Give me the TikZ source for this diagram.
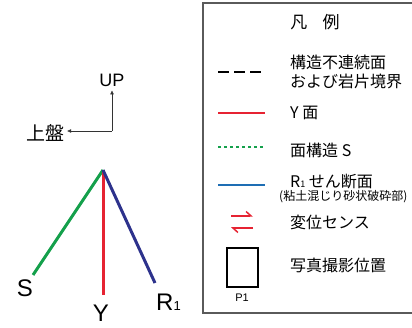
\documentclass[tikz,border=0pt]{standalone}
\usepackage{fontspec}
\setmainfont{Liberation Sans}
\newfontfamily\jp{Noto Sans CJK JP}
\usepackage{tikz}
\usetikzlibrary{arrows.meta,positioning}
\definecolor{sgreen}{RGB}{20,160,75}
\definecolor{yred}{RGB}{230,35,50}
\definecolor{rnavy}{RGB}{45,50,140}
\definecolor{rblue}{RGB}{30,110,180}
\definecolor{framegray}{RGB}{90,90,90}

\begin{document}
\begin{tikzpicture}[x=1pt, y=-1pt,
    plane/.style={line width=3pt},
    legline/.style={line width=2pt},
    legtext/.style={anchor=west, inner sep=0pt, align=left, font=\jp\fontsize{16}{19}\selectfont},
    planelabel/.style={inner sep=0pt, font=\fontsize{24}{24}\selectfont},
    dirarrow/.style={-{Triangle[length=4pt,width=3.5pt]}, line width=0.6pt, draw=black!80},
    sense/.style={-{Straight Barb[left, length=5pt, width=9pt]}, line width=1.5pt, draw=yred}
]
    \clip (0,0) rectangle (412,328);

    % orientation
    \coordinate (o) at (112,131);
    \node[font=\fontsize{18}{18}\selectfont, inner sep=0pt] (up) at (112,80) {UP};
    \node[font=\jp\fontsize{19}{19}\selectfont, inner sep=0pt] (hw) at (46,133) {上盤};
    \draw[dirarrow] (o) -- ([yshift=-4pt]up.south);
    \draw[dirarrow] (o) -- ([xshift=2pt]hw.east |- o);

    % planes
    \coordinate (apex) at (103,170);
    \coordinate (send) at (33,275);
    \coordinate (yend) at (103,295);
    \coordinate (rend) at (155,283);
    \draw[plane, sgreen] (apex) -- (send);
    \draw[plane, yred] (apex) -- (yend);
    \draw[plane, rnavy] (apex) -- (rend);
    \node[planelabel] (s) at (25,288) {S};
    \node[planelabel] (y) at (101,313) {Y};
    \node[planelabel, anchor=base west] (r) at (156,311) {R{\fontsize{13}{13}\selectfont 1}};

    % legend
    \draw[line width=1.5pt, framegray] (203,3) rectangle (430,313);
    \node[font=\jp\fontsize{17}{17}\selectfont, inner sep=0pt] (title) at (315,22) {凡\hspace{0.9em}例};

    \draw[legline, dash pattern=on 11pt off 5pt] (218,72) -- (263,72);
    \node[legtext] (t1) at (290,72) {構造不連続面\\および岩片境界};

    \draw[legline, yred] (218,113) -- (265,113);
    \node[legtext] (t2) at (290,113) {Y 面};

    \draw[legline, sgreen, dash pattern=on 3pt off 3pt] (218,147) -- (265,147);
    \node[legtext] (t3) at (290,150) {面構造 S};

    \draw[legline, rblue] (218,185) -- (265,185);
    \node[legtext] (t4) at (290,182) {R{\fontsize{9}{9}\selectfont 1} せん断面};
    \node[legtext, font=\jp\fontsize{12}{12}\selectfont] (t4b) at (279,197) {(粘土混じり砂状破砕部)};

    \draw[sense] (231,216) -- (253,216);
    \draw[sense] (253,228) -- (231,228);
    \node[legtext] (t5) at (290,222) {変位センス};

    \draw[line width=1.6pt] (227,248) rectangle (258,287);
    \node[font=\fontsize{11}{11}\selectfont, inner sep=0pt] (p1) at (242,298) {P1};
    \node[legtext] (t6) at (290,265) {写真撮影位置};
\end{tikzpicture}
\end{document}
